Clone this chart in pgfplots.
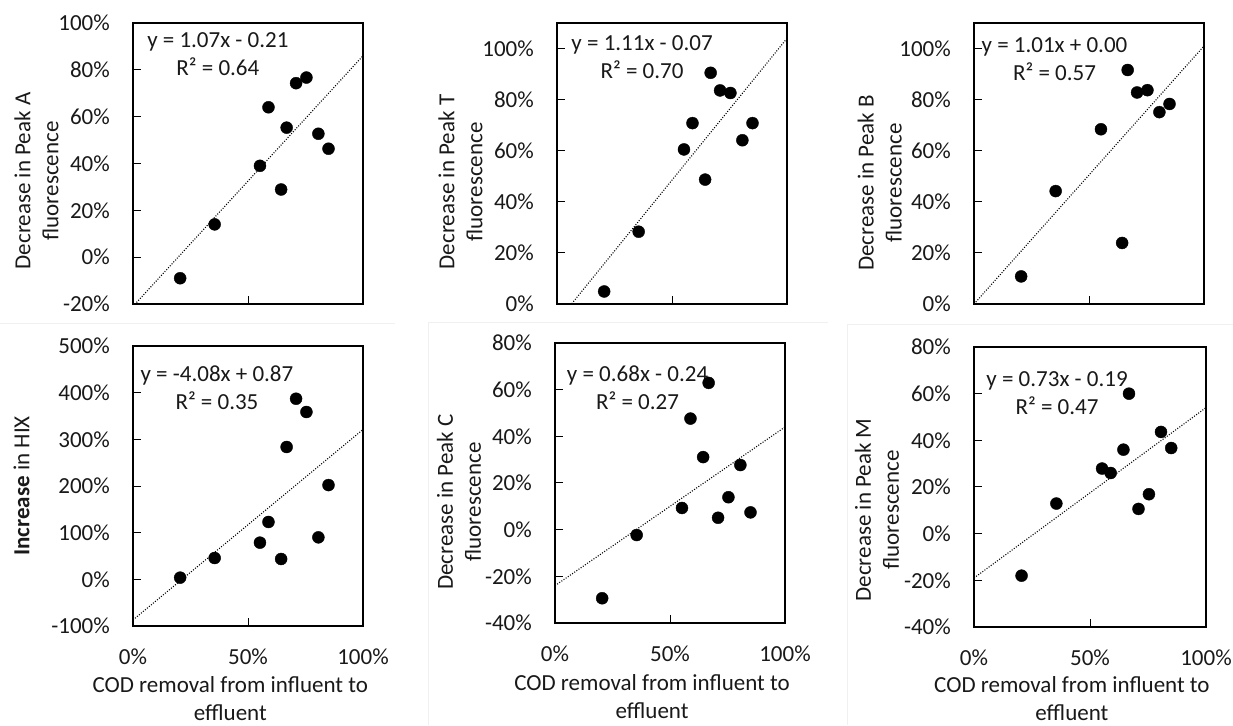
\documentclass[border=0pt]{standalone}
\usepackage{fontspec}
\setmainfont{Carlito}
\usepackage{pgfplots}
\pgfplotsset{compat=1.18}

\newcommand{\cfont}{\fontsize{23}{28}\selectfont}

\pgfplotsset{
  panel/.style={
    scale only axis, width=230pt, height=281pt, anchor=south west,
    xmin=0, xmax=1, xtick={0,0.5,1},
    axis line style={line width=2.2pt, black},
    tick align=inside, tick pos=left,
    major tick length=8pt,
    every tick/.style={black, line width=1pt},
    tick label style={font=\cfont, inner sep=0pt, text=black!90},
    yticklabel style={anchor=east, xshift=-23pt},
    xticklabel style={anchor=center, yshift=-31pt},
    every axis y label/.style={rotate=90, anchor=center, align=center, font=\cfont, text=black!90},
    every axis x label/.style={at={(axis description cs:0.423,-0.258)}, anchor=center, align=center, font=\cfont, text=black!90},
    clip=true,
  },
  pts/.style={only marks, mark=*, mark size=6pt, black},
  trend/.style={black, line width=1.1pt, dash pattern=on 1pt off 1.6pt},
}
\tikzset{eq/.style={align=center, font=\cfont, text=black!90, inner sep=0pt}}

\begin{document}
\begin{tikzpicture}
\path[use as bounding box] (0pt,0pt) rectangle (1233pt,725pt);
% faint chart-area borders
\draw[black!6, line width=1pt] (0pt,401pt) -- (395pt,401pt);
\draw[black!6, line width=1pt] (428pt,0pt) -- (428pt,402pt) -- (828pt,402pt);
\draw[black!6, line width=1pt] (847pt,0pt) -- (847pt,400pt) -- (1233pt,400pt);

% ---------- Peak A ----------
\begin{axis}[panel, at={(133pt,421pt)},
  ymin=-0.2, ymax=1.0, ytick={-0.2,0,0.2,0.4,0.6,0.8,1.0},
  yticklabels={-20\%,0\%,20\%,40\%,60\%,80\%,100\%},
  xticklabels={},
  ylabel={Decrease in Peak A\\fluorescence},
  ylabel style={at={(axis description cs:-0.42,0.438)}}]
\addplot[pts] coordinates {
(0.205,-0.090) (0.355,0.140) (0.552,0.390) (0.589,0.640) (0.644,0.289)
(0.668,0.553) (0.709,0.743) (0.754,0.767) (0.806,0.527) (0.850,0.463)};
\addplot[trend] coordinates {(0,-0.21) (1,0.86)};
\node[eq] at (axis description cs:0.369,0.888) {y = 1.07x - 0.21\\R² = 0.64};
\end{axis}

% ---------- Peak T ----------
\begin{axis}[panel, at={(557pt,421pt)},
  ymin=0, ymax=1.1, ytick={0,0.2,0.4,0.6,0.8,1.0},
  yticklabels={0\%,20\%,40\%,60\%,80\%,100\%},
  xticklabels={},
  ylabel={Decrease in Peak T\\fluorescence},
  ylabel style={at={(axis description cs:-0.42,0.434)}}]
\addplot[pts] coordinates {
(0.205,0.049) (0.355,0.283) (0.552,0.605) (0.589,0.708) (0.644,0.487)
(0.668,0.905) (0.709,0.836) (0.754,0.826) (0.806,0.641) (0.850,0.708)};
\addplot[trend] coordinates {(0,-0.07) (1,1.04)};
\node[eq] at (axis description cs:0.37,0.877) {y = 1.11x - 0.07\\R² = 0.70};
\end{axis}

% ---------- Peak B ----------
\begin{axis}[panel, at={(974pt,421pt)},
  ymin=0, ymax=1.1, ytick={0,0.2,0.4,0.6,0.8,1.0},
  yticklabels={0\%,20\%,40\%,60\%,80\%,100\%},
  xticklabels={},
  ylabel={Decrease in Peak B\\fluorescence},
  ylabel style={at={(axis description cs:-0.41,0.431)}}]
\addplot[pts] coordinates {
(0.205,0.108) (0.355,0.442) (0.552,0.684) (0.644,0.239)
(0.668,0.916) (0.709,0.828) (0.754,0.837) (0.806,0.751) (0.850,0.783)};
\addplot[trend] coordinates {(0,0.00) (1,1.01)};
\node[eq] at (axis description cs:0.35,0.872) {y = 1.01x + 0.00\\R² = 0.57};
\end{axis}

% ---------- HIX ----------
\begin{axis}[panel, at={(133pt,99pt)}, height=280pt,
  ymin=-1, ymax=5, ytick={-1,0,1,2,3,4,5},
  yticklabels={-100\%,0\%,100\%,200\%,300\%,400\%,500\%},
  xticklabels={0\%,50\%,100\%},
  xlabel={COD removal from influent to\\effluent},
  ylabel={\textbf{Increase} in HIX},
  ylabel style={at={(axis description cs:-0.485,0.5)}}]
\addplot[pts] coordinates {
(0.205,0.036) (0.355,0.457) (0.552,0.786) (0.589,1.229) (0.644,0.436)
(0.668,2.836) (0.709,3.870) (0.754,3.586) (0.806,0.900) (0.850,2.020)};
\addplot[trend] coordinates {(0,-0.87) (1,3.21)};
\node[eq] at (axis description cs:0.365,0.85) {y = -4.08x + 0.87\\R² = 0.35};
\end{axis}

% ---------- Peak C ----------
\begin{axis}[panel, at={(555pt,102pt)}, height=280pt,
  ymin=-0.4, ymax=0.8, ytick={-0.4,-0.2,0,0.2,0.4,0.6,0.8},
  yticklabels={-40\%,-20\%,0\%,20\%,40\%,60\%,80\%},
  xticklabels={0\%,50\%,100\%},
  xlabel={COD removal from influent to\\effluent},
  xlabel style={at={(axis description cs:0.422,-0.262)}},
  ylabel={Decrease in Peak C\\fluorescence},
  ylabel style={at={(axis description cs:-0.417,0.432)}}]
\addplot[pts] coordinates {
(0.205,-0.294) (0.355,-0.023) (0.552,0.093) (0.589,0.476) (0.644,0.311)
(0.668,0.629) (0.709,0.051) (0.754,0.139) (0.806,0.277) (0.850,0.074)};
\addplot[trend] coordinates {(0,-0.24) (1,0.44)};
\node[eq] at (axis description cs:0.359,0.839) {y = 0.68x - 0.24\\R² = 0.27};
\end{axis}

% ---------- Peak M ----------
\begin{axis}[panel, at={(974pt,98pt)}, width=232pt, height=280pt,
  ymin=-0.4, ymax=0.8, ytick={-0.4,-0.2,0,0.2,0.4,0.6,0.8},
  yticklabels={-40\%,-20\%,0\%,20\%,40\%,60\%,80\%},
  xticklabels={0\%,50\%,100\%},
  xlabel={COD removal from influent to\\effluent},
  xlabel style={at={(axis description cs:0.422,-0.255)}},
  ylabel={Decrease in Peak M\\fluorescence},
  ylabel style={at={(axis description cs:-0.418,0.418)}}]
\addplot[pts] coordinates {
(0.205,-0.180) (0.355,0.129) (0.552,0.279) (0.589,0.260) (0.644,0.360)
(0.668,0.600) (0.709,0.106) (0.754,0.169) (0.806,0.436) (0.850,0.367)};
\addplot[trend] coordinates {(0,-0.19) (1,0.54)};
\node[eq] at (axis description cs:0.358,0.836) {y = 0.73x - 0.19\\R² = 0.47};
\end{axis}
\end{tikzpicture}
\end{document}
